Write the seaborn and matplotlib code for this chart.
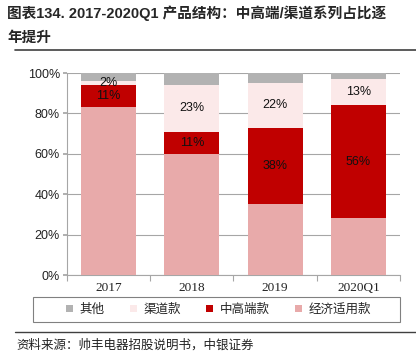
import matplotlib
matplotlib.use("Agg")
import matplotlib.pyplot as plt
import seaborn as sns
import numpy as np
import pandas as pd
from matplotlib.patches import Patch, Rectangle
from matplotlib.lines import Line2D
from matplotlib.ticker import FixedLocator, PercentFormatter

categories = ["2017", "2018", "2019", "2020Q1"]
series_names = ["其他", "渠道款", "中高端款", "经济适用款"]
economy = [83, 60, 35, 28]
midhigh = [11, 11, 38, 56]
channel = [2, 23, 22, 13]
other = [4, 6, 5, 3]
label_channel = [True, True, True, True]
label_midhigh = [True, True, True, True]

colors = {"其他": "#B2B2B2", "渠道款": "#FBE9E9", "中高端款": "#C00000", "经济适用款": "#E8AAAA"}

sns.set_theme(style="white")
plt.rcParams['font.family'] = ['Liberation Sans', 'Noto Sans CJK SC', 'DejaVu Sans']

fig = plt.figure(figsize=(4.16, 3.6), dpi=100)
ax = fig.add_axes([0.161, 0.236, 0.8005, 0.561])

df = pd.DataFrame({"cat": categories, "economy": economy, "midhigh": midhigh,
                   "channel": channel, "other": other})
df["c1"] = df["economy"]
df["c2"] = df["c1"] + df["midhigh"]
df["c3"] = df["c2"] + df["channel"]
df["c4"] = df["c3"] + df["other"]

for col, name in [("c4", "其他"), ("c3", "渠道款"), ("c2", "中高端款"), ("c1", "经济适用款")]:
    sns.barplot(data=df, x="cat", y=col, color=colors[name], width=0.66,
                saturation=1, ax=ax, linewidth=0, zorder=3)

ax.set_ylim(0, 100)
ax.set_xlim(-0.5, 3.5)
ax.set_xlabel("")
ax.set_ylabel("")
ax.yaxis.set_major_locator(FixedLocator([0, 20, 40, 60, 80, 100]))
ax.yaxis.set_major_formatter(PercentFormatter(decimals=0))
ax.grid(axis="y", color="#A6A6A6", linewidth=0.8, zorder=0)
ax.set_axisbelow(True)
for s in ["top", "right"]:
    ax.spines[s].set_visible(False)
for s in ["left", "bottom"]:
    ax.spines[s].set_color("#A6A6A6")
    ax.spines[s].set_linewidth(0.8)
ax.tick_params(axis="y", labelsize=9, length=3, color="#A6A6A6", left=True, pad=2,
               labelcolor="#222222")
ax.tick_params(axis="x", length=0, pad=5)
ax.set_xticks(range(len(categories)))
ax.set_xticklabels(categories, fontfamily="Liberation Serif", fontsize=9.5, color="#222222")
ax.xaxis.set_minor_locator(FixedLocator([-0.5, 0.5, 1.5, 2.5, 3.5]))
ax.tick_params(axis="x", which="minor", length=4, color="#A6A6A6", bottom=True, width=0.8)

for i in range(len(categories)):
    if label_midhigh[i]:
        ax.text(i, df["c1"][i] + midhigh[i] / 2, f"{midhigh[i]}%", ha="center", va="center",
                fontsize=9, color="#111111", zorder=5)
    if label_channel[i]:
        ax.text(i, df["c2"][i] + channel[i] / 2, f"{channel[i]}%", ha="center", va="center",
                fontsize=9, color="#111111", zorder=5)

# legend frame box
fig.add_artist(Rectangle((0.079, 0.106), 0.882, 0.069, transform=fig.transFigure,
                         fill=False, edgecolor="#808080", linewidth=0.8))
handles = [Patch(facecolor=colors[n], edgecolor="none") for n in series_names]
leg = fig.legend(handles, series_names, loc="center", ncol=4,
                 bbox_to_anchor=(0.525, 0.1405), frameon=False,
                 handlelength=0.6, handleheight=0.6, handletextpad=0.5, columnspacing=2.0,
                 borderaxespad=0, prop={"family": ["Noto Sans CJK SC"], "size": 9})

fig.text(0.017, 0.962, "图表134. 2017-2020Q1 产品结构：中高端/渠道系列占比逐", fontsize=10.5,
         fontweight="bold", family=["Liberation Sans", "Noto Sans CJK SC"], va="center", ha="left")
fig.text(0.017, 0.897, "年提升", fontsize=10.5, fontweight="bold",
         family=["Noto Sans CJK SC"], va="center", ha="left")
fig.add_artist(Line2D([0.035, 1.0], [0.861, 0.861], color="#404040", linewidth=1.2))
fig.add_artist(Line2D([0.035, 1.0], [0.078, 0.078], color="#404040", linewidth=1.0))
fig.text(0.04, 0.040, "资料来源：帅丰电器招股说明书，中银证券", fontsize=9,
         family=["Noto Sans CJK SC"], va="center", ha="left", color="#222222")

fig.savefig("out.png", dpi=100)
